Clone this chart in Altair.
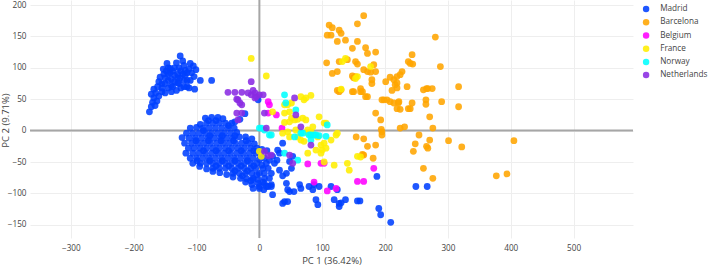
import altair as alt
import pandas as pd

groups = ["Madrid", "Barcelona", "Belgium", "France", "Norway", "Netherlands"]
colors = ["#0040ff", "#ffa500", "#ff00ff", "#ffee00", "#00ffff", "#8a2be2"]

x_ticks = [-300, -200, -100, 0, 100, 200, 300, 400, 500]
y_ticks = [-150, -100, -50, 0, 50, 100, 150, 200]

madrid_upper = [
    (-175, 30), (-172, 38), (-170, 45), (-168, 52), (-172, 58), (-165, 60), (-168, 66), (-162, 70),
    (-160, 78), (-158, 85), (-155, 75), (-152, 90), (-148, 95), (-147, 107), (-145, 100), (-142, 92),
    (-142, 99), (-138, 95), (-135, 88), (-130, 90), (-128, 100), (-126, 119), (-122, 111), (-120, 104),
    (-118, 96), (-115, 92), (-110, 107), (-105, 103), (-101, 97), (-108, 92), (-104, 86), (-110, 80),
    (-103, 66), (-115, 70), (-120, 80), (-125, 68), (-130, 76), (-132, 64), (-138, 70), (-140, 62),
    (-145, 68), (-150, 60), (-155, 62), (-160, 55), (-145, 80), (-140, 82), (-150, 84), (-135, 78),
    (-126, 84), (-118, 88), (-94, 80), (-76, 80), (-112, 68), (-163, 47), (-166, 40), (-155, 68),
    (-150, 75), (-145, 90), (-135, 100), (-132, 108), (-125, 95), (-122, 90), (-128, 75), (-115, 80),
    (-120, 70), (-140, 72), (-153, 98), (-130, 84), (-112, 98),
]

madrid_lower = [
    (-86, 20), (-76, 21), (-66, 21), (-58, 19),
    (-94, 10), (-84, 12), (-74, 12), (-64, 12), (-54, 12), (-44, 12),
    (-110, 4), (-100, 5), (-90, 4), (-80, 4), (-70, 4), (-60, 4), (-50, 4), (-40, 4),
    (-116, -4), (-106, -4), (-96, -4), (-86, -4), (-76, -4), (-66, -4), (-56, -4), (-46, -4), (-36, -3),
    (-123, -11), (-112, -12), (-102, -12), (-92, -12), (-82, -12), (-72, -12), (-62, -12), (-52, -12),
    (-42, -12), (-32, -10), (-22, -10), (-12, -13),
    (-119, -20), (-108, -20), (-98, -20), (-88, -20), (-78, -20), (-68, -20), (-58, -20), (-48, -20),
    (-38, -20), (-28, -20), (-18, -20), (-8, -21),
    (-113, -28), (-104, -28), (-94, -28), (-84, -28), (-74, -28), (-64, -28), (-54, -28), (-44, -28),
    (-34, -28), (-24, -28), (-14, -28), (-4, -28), (4, -30), (12, -32),
    (-117, -36), (-106, -36), (-96, -36), (-86, -36), (-76, -36), (-66, -36), (-56, -36), (-46, -36),
    (-36, -36), (-26, -36), (-16, -36), (-6, -36), (2, -38),
    (-110, -44), (-100, -44), (-90, -44), (-80, -44), (-70, -44), (-60, -44), (-50, -44), (-40, -44),
    (-30, -44), (-20, -44), (-10, -44), (0, -46), (8, -44),
    (-106, -52), (-94, -52), (-84, -52), (-74, -52), (-64, -52), (-54, -52), (-44, -52), (-34, -52),
    (-24, -52), (-14, -52), (-4, -52), (4, -55),
    (-95, -57), (-84, -61), (-74, -60), (-64, -60), (-54, -60), (-44, -60), (-34, -60), (-24, -60),
    (-14, -60), (-6, -60), (6, -60), (14, -60),
    (-74, -65), (-63, -67), (-52, -70), (-42, -68), (-32, -68), (-22, -68), (-12, -68), (-4, -70), (8, -68),
    (-42, -74), (-30, -76), (-20, -77), (-10, -76), (-2, -78), (8, -76),
    (-22, -82), (-12, -86), (-2, -84), (6, -82),
    (-10, -92), (0, -92),
    (-81, 16), (-69, 16), (-49, 8), (-89, 0), (-79, -8), (-59, -8), (-39, -8), (-101, -16), (-81, -16),
    (-61, -16), (-41, -16), (-21, -16), (-89, -32), (-69, -32), (-49, -32), (-29, -32), (-9, -32),
    (-99, -48), (-79, -48), (-59, -48), (-39, -48), (-19, -48), (-69, -56), (-49, -56), (-29, -56),
    (-9, -56), (-39, -64), (-19, -64), (-27, -72), (-14, -80),
]

madrid_outer = [
    (-2, 49), (-23, 27), (-39, 14), (-31, 18), (37, -20), (29, -31), (32, -36), (28, -47), (21, -41),
    (16, -47), (11, -52), (24, -52), (32, -63), (43, -68), (51, -60), (48, -49), (53, -41), (0, -68),
    (-10, -78), (0, -89), (8, -84), (14, -89), (21, -102), (19, -86), (16, -76), (19, -68), (37, -72),
    (43, -84), (45, -94), (48, -97), (37, -116), (45, -113), (40, -113), (64, -86), (66, -92), (79, -89),
    (85, -94), (87, -86), (95, -89), (90, -110), (93, -118), (114, -89), (119, -110), (127, -116),
    (127, -121), (137, -110), (130, -115), (124, -94), (156, -112), (160, -112), (190, -124),
    (193, -134), (209, -146), (187, -73), (249, -89), (267, -89), (7, -94), (55, -97), (11, -89), (19, -89),
]

barcelona = [
    (166, 183), (111, 168), (116, 164), (156, 170), (108, 152), (114, 152), (127, 160), (130, 155),
    (137, 144), (156, 142), (124, 142), (148, 131), (169, 132), (172, 123), (185, 125), (107, 108),
    (127, 110), (140, 113), (153, 110), (156, 106), (166, 97), (172, 94), (177, 93), (182, 105),
    (185, 94), (116, 91), (124, 94), (148, 87), (150, 84), (153, 86), (179, 81), (179, 75), (124, 64),
    (127, 62), (130, 65), (148, 62), (150, 62), (161, 67), (161, 62), (164, 62), (169, 54), (172, 54),
    (185, 28), (193, 17), (194, 2), (195, -2), (195, -7), (154, -10), (166, -13), (172, -25), (185, -23),
    (164, -38), (166, -39), (181, -44), (198, 49), (201, 78), (208, 85), (214, 81), (219, 86), (219, 76),
    (216, 73), (219, 68), (211, 64), (195, 49), (203, 49), (208, 46), (214, 44), (221, 44), (219, 35),
    (224, 34), (222, 46), (237, 35), (243, 44), (240, 35), (224, 89), (227, 94), (235, 70), (237, 110),
    (240, 107), (243, 121), (244, 106), (224, 4), (231, 6), (254, -7), (248, -21), (245, -33), (261, -60),
    (261, 65), (266, 67), (268, 67), (275, 67), (265, 49), (265, 42), (271, 22), (276, 4), (271, -15),
    (268, -28), (266, -25), (276, -76), (280, 149), (288, 102), (290, 46), (301, -16), (317, 70),
    (317, 38), (322, -26), (377, -72), (394, -69), (405, -16),
]

belgium = [
    (14, 46), (16, 41), (27, 25), (36, 4), (77, -53), (98, -52), (103, -52), (87, -82), (108, -96),
    (122, -92), (156, -81), (166, -81), (182, -60), (14, 28),
]

france = [
    (-13, 115), (11, 87), (21, 30), (40, 28), (48, 30), (40, 13), (48, 14), (51, 20), (56, 17), (61, 18),
    (69, 20), (74, 17), (95, 22), (103, 12), (106, 12), (66, 54), (74, 52), (82, 56), (51, 44), (71, 49),
    (40, 41), (45, 41), (77, 1), (82, -2), (85, 6), (58, 1), (45, -2), (48, -10), (61, -10), (66, -15),
    (71, -17), (77, -4), (93, -10), (122, -7), (124, -4), (114, -15), (77, -36), (90, -31), (98, -23),
    (100, -31), (98, -36), (106, -28), (103, -20), (103, -50), (119, -55), (140, -52), (143, -63),
    (156, -41), (161, -42), (0, -33), (3, -41), (137, 115), (132, 110), (177, 102), (153, 83), (156, 86),
    (130, 66), (37, -4),
]

norway = [
    (40, 57), (42, 44), (58, 33), (3, 4), (0, 4), (8, 1), (19, -7), (16, -7), (56, -10), (66, -4),
    (69, -4), (79, -7), (82, -7), (87, -7), (90, -7), (95, -8), (82, -15), (106, -9), (108, 9),
    (40, -36), (61, -47),
]

netherlands = [
    (-13, 78), (-50, 61), (-39, 61), (-28, 61), (-13, 57), (-7, 60), (0, 57), (-5, 54), (-7, 52),
    (6, 57), (-34, 49), (-36, 50), (-31, 44), (-28, 41), (-36, 28), (-28, 28), (8, 28), (-34, 17),
    (56, 52), (58, 25), (66, 6), (11, 4), (82, -23), (48, -39), (53, -52), (8, -33), (14, -40),
    (19, -39), (-18, 60), (-10, 64),
]

series = [madrid_upper + madrid_lower + madrid_outer, barcelona, belgium, france, norway, netherlands]

rows = []
for g, pts in zip(groups, series):
    for px, py in pts:
        rows.append({"group": g, "pc1": px, "pc2": py})
df = pd.DataFrame(rows)

FONT = "Open Sans"
TXT = "#444444"
XDOM = [-365, 594.5]
YDOM = [-171, 208]

x_axis = alt.Axis(
    title="PC 1 (36.42%)", values=x_ticks, grid=True, gridColor="#eeeeee", domain=False,
    ticks=False, labelFontSize=8.2, labelColor=TXT, labelFont=FONT, labelPadding=6,
    labelFlush=False, labelOverlap=False,
    titleFontSize=9.5, titleColor=TXT, titleFont=FONT, titleFontWeight="normal",
    titleX=301.5, titleY=22, titleBaseline="middle", titleAlign="center",
)
y_axis = alt.Axis(
    title="PC 2 (9.71%)", values=y_ticks, grid=True, gridColor="#eeeeee", domain=False,
    ticks=False, labelFontSize=8.2, labelColor=TXT, labelFont=FONT, labelPadding=4,
    labelFlush=False, labelOverlap=False,
    titleFontSize=9.5, titleColor=TXT, titleFont=FONT, titleFontWeight="normal",
    titleX=-25, titleY=120, titleAngle=270, titleBaseline="middle", titleAlign="center",
)

x_scale = alt.Scale(domain=XDOM, nice=False, zero=False)
y_scale = alt.Scale(domain=YDOM, nice=False, zero=False)

zero_df = pd.DataFrame({"v": [0]})
rule_x = alt.Chart(zero_df).mark_rule(color="#a6a6a6", strokeWidth=2).encode(
    x=alt.X("v:Q", scale=x_scale, axis=x_axis)
)
rule_y = alt.Chart(zero_df).mark_rule(color="#a6a6a6", strokeWidth=2).encode(
    y=alt.Y("v:Q", scale=y_scale, axis=y_axis)
)

points = alt.Chart(df).mark_circle(size=46, opacity=0.88).encode(
    x=alt.X("pc1:Q", scale=x_scale, axis=x_axis),
    y=alt.Y("pc2:Q", scale=y_scale, axis=y_axis),
    color=alt.Color(
        "group:N",
        scale=alt.Scale(domain=groups, range=colors),
        sort=groups,
        legend=alt.Legend(
            title=None, orient="none", legendX=612, legendY=5, symbolType="circle", symbolSize=42,
            labelFontSize=8.2, labelColor=TXT, labelFont=FONT, rowPadding=4.2, labelOffset=10,
            padding=0, symbolStrokeWidth=0,
        ),
    ),
)

chart = alt.layer(rule_x, rule_y, points).properties(
    width=603, height=238,
    padding={"left": 30, "top": 0, "right": 75, "bottom": 28},
    autosize=alt.AutoSizeParams(type="none"),
).configure_view(stroke=None).configure_axis(labelOverlap=False, labelFlush=False)

chart.save("out.html", embed_options={"renderer": "svg", "actions": False})
